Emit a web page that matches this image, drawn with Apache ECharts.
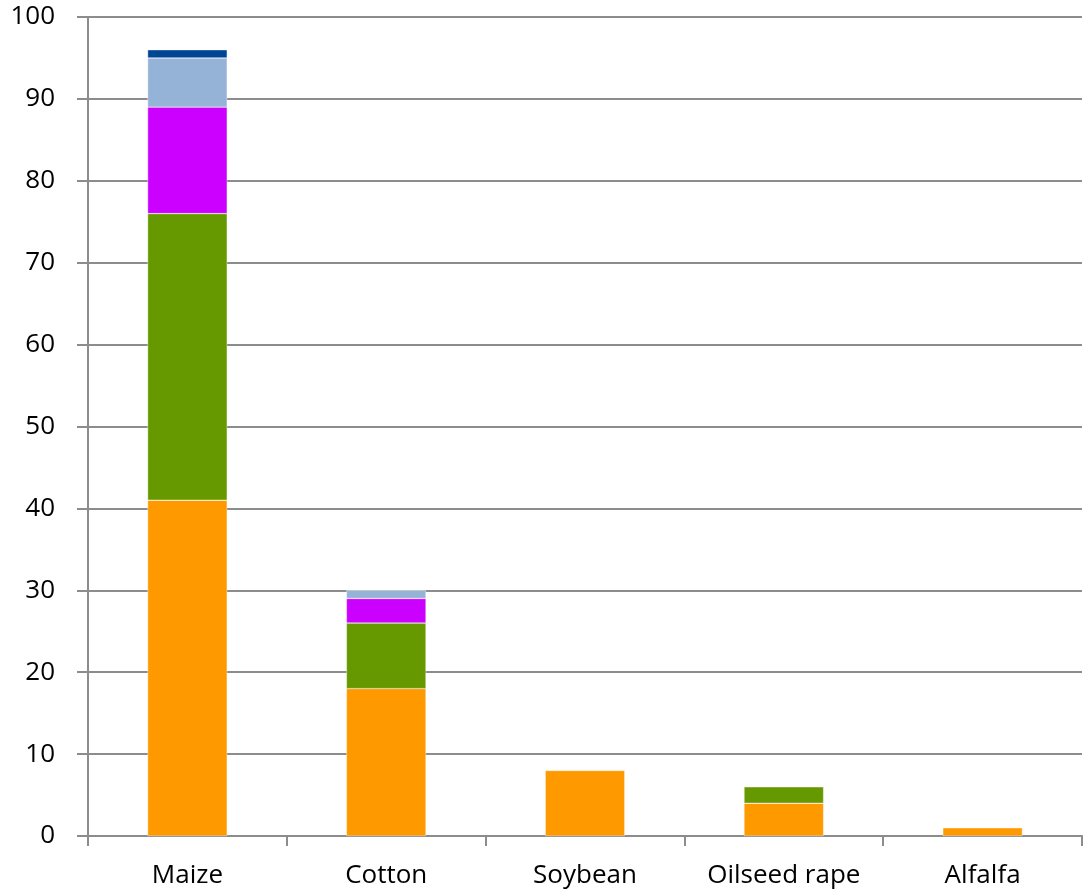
<!DOCTYPE html>
<html>
<head>
<meta charset="utf-8">
<script src="https://cdn.jsdelivr.net/npm/echarts@6/dist/echarts.min.js"></script>
<style>
  html, body { margin: 0; padding: 0; background: #ffffff; }
  #chart { width: 1085px; height: 894px; }
</style>
</head>
<body>
<div id="chart"></div>
<script>
// Crop categories
const categories = ['Maize', 'Cotton', 'Soybean', 'Oilseed rape', 'Alfalfa'];

// Stacked segment values per crop (bottom to top)
const seriesOrange    = [41, 18, 8, 4, 1];
const seriesGreen     = [35, 8, 0, 2, 0];
const seriesMagenta   = [13, 3, 0, 0, 0];
const seriesLightBlue = [6, 1, 0, 0, 0];
const seriesDarkBlue  = [1, 0, 0, 0, 0];

// Value axis range
const yMin = 0;
const yMax = 100;
const yStep = 10;

const segments = [
  { name: 'Segment 1', data: seriesOrange,    color: '#ff9900' },
  { name: 'Segment 2', data: seriesGreen,     color: '#669900' },
  { name: 'Segment 3', data: seriesMagenta,   color: '#cc00ff' },
  { name: 'Segment 4', data: seriesLightBlue, color: '#95b3d7' },
  { name: 'Segment 5', data: seriesDarkBlue,  color: '#004494' }
];

const fontFamily = "'Open Sans', 'Liberation Sans', sans-serif";
const chart = echarts.init(document.getElementById('chart'), null, { renderer: 'canvas' });

chart.setOption({
  animation: false,
  backgroundColor: '#ffffff',
  grid: { left: 88, right: 3, top: 17, bottom: 58, containLabel: false },
  xAxis: {
    type: 'category',
    data: categories,
    boundaryGap: true,
    axisLine: { show: true, lineStyle: { color: '#8c8c8c', width: 2 } },
    axisTick: { show: true, length: 10, alignWithLabel: false, lineStyle: { color: '#8c8c8c', width: 2 } },
    axisLabel: { color: '#000000', fontSize: 26, fontFamily: fontFamily, margin: 27, interval: 0 },
    splitLine: { show: false }
  },
  yAxis: {
    type: 'value',
    min: yMin,
    max: yMax,
    interval: yStep,
    axisLine: { show: true, lineStyle: { color: '#8c8c8c', width: 2 } },
    axisTick: { show: true, length: 11, lineStyle: { color: '#8c8c8c', width: 2 } },
    axisLabel: { color: '#000000', fontSize: 26, fontFamily: fontFamily, margin: 33 },
    splitLine: { show: true, lineStyle: { color: '#8c8c8c', width: 2 } }
  },
  series: segments.map(s => ({
    name: s.name,
    type: 'bar',
    stack: 'total',
    barWidth: '40%',
    data: s.data.map(v => (v === 0 ? null : v)),
    itemStyle: { color: s.color, borderColor: '#ffffff', borderWidth: 0.4 }
  }))
});
</script>
</body>
</html>
